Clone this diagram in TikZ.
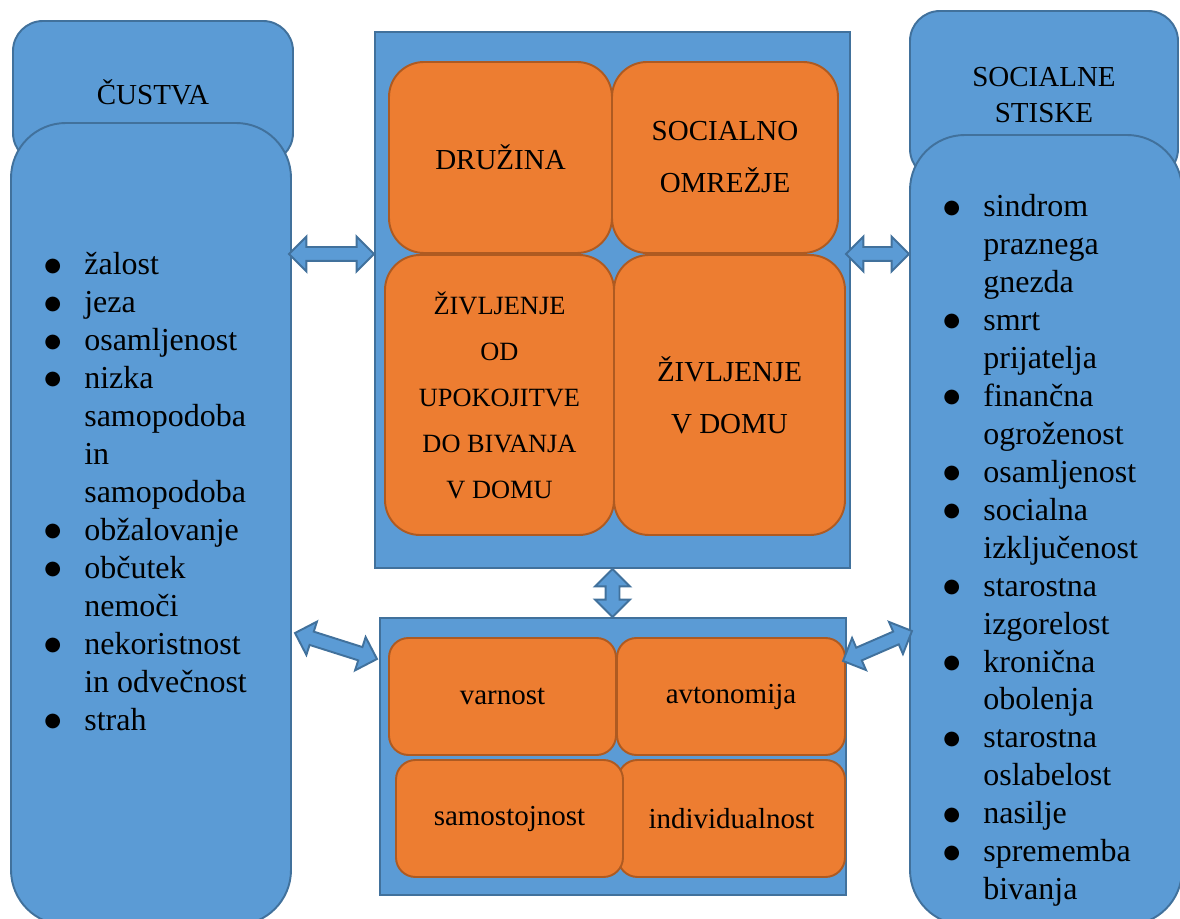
\documentclass[tikz,border=0pt]{standalone}
\usepackage{fontspec}
\setmainfont{Liberation Serif}
\newfontfamily\dotfont{DejaVu Sans}
\usetikzlibrary{calc,shapes.arrows}
\definecolor{boxblue}{RGB}{91,155,213}
\definecolor{lineblue}{RGB}{65,113,156}
\definecolor{boxorange}{RGB}{237,125,49}
\definecolor{lineorange}{RGB}{174,90,33}
\newcommand{\itemdot}{\makebox[0.74cm][l]{\hspace*{-0.06cm}\raisebox{2pt}{\dotfont\fontsize{11}{11}\selectfont ●}}}
\newcommand{\itemgap}{\hspace*{0.74cm}}

\begin{document}
\begin{tikzpicture}[
    bluebox/.style={rectangle, rounded corners=0.6cm, fill=boxblue, draw=lineblue, line width=1.1pt, align=center, font=\fontsize{16.5}{20.5}\selectfont},
    frame/.style={rectangle, fill=boxblue, draw=lineblue, line width=1.1pt},
    topcell/.style={rectangle, rounded corners=0.7cm, fill=boxorange, draw=lineorange, line width=1.1pt, align=center, font=\fontsize{16.5}{29.6}\selectfont},
    lowcell/.style={rectangle, rounded corners=0.39cm, minimum width=4.54cm, minimum height=2.34cm, fill=boxorange, draw=lineorange, line width=1.1pt, font=\fontsize{16.5}{20}\selectfont},
    bullets/.style={align=left, inner sep=0pt, anchor=north west, font=\fontsize{18.2}{21.6}\selectfont},
    dblarrow/.style={double arrow, double arrow head extend=0.21cm, inner sep=0.12cm, outer sep=0pt, fill=boxblue, draw=lineblue, line width=1.1pt},
]
\useasboundingbox (0,0) rectangle (23.6,18.38);

\node[bluebox, minimum width=5.6cm, minimum height=2.84cm] (feelhead) at (3.06,16.54) {ČUSTVA};
\node[frame, rounded corners=1.1cm, minimum width=5.6cm, minimum height=16.04cm] (feelbody) at (3.02,7.9) {};
\node[bullets] (feellist) at (0.94,13.34) {\itemdot žalost\\ \itemdot jeza\\ \itemdot osamljenost\\ \itemdot nizka\\ \itemgap samopodoba\\ \itemgap in\\ \itemgap samopodoba\\ \itemdot obžalovanje\\ \itemdot občutek\\ \itemgap nemoči\\ \itemdot nekoristnost\\ \itemgap in odvečnost\\ \itemdot strah};

\node[bluebox, minimum width=5.36cm, minimum height=3.36cm] (sochead) at (20.88,16.48) {SOCIALNE\\STISKE};
\node[frame, rounded corners=1.1cm, minimum width=5.44cm, minimum height=15.8cm] (socbody) at (20.92,7.78) {};
\node[bullets] (soclist) at (18.92,14.5) {\itemdot sindrom\\ \itemgap praznega\\ \itemgap gnezda\\ \itemdot smrt\\ \itemgap prijatelja\\ \itemdot finančna\\ \itemgap ogroženost\\ \itemdot osamljenost\\ \itemdot socialna\\ \itemgap izključenost\\ \itemdot starostna\\ \itemgap izgorelost\\ \itemdot kronična\\ \itemgap obolenja\\ \itemdot starostna\\ \itemgap oslabelost\\ \itemdot nasilje\\ \itemdot sprememba\\ \itemgap bivanja};

\node[frame, minimum width=9.5cm, minimum height=10.72cm] (topbox) at (12.25,12.38) {};
\node[topcell, minimum width=4.46cm, minimum height=3.82cm] (family) at (10.01,15.23) {DRUŽINA};
\node[topcell, minimum width=4.52cm, minimum height=3.82cm] (network) at (14.5,15.23) {SOCIALNO\\OMREŽJE};
\node[topcell, minimum width=4.58cm, minimum height=5.6cm, font=\fontsize{15}{26.2}\selectfont] (retire) at (9.99,10.48) {ŽIVLJENJE\\OD\\UPOKOJITVE\\DO BIVANJA\\V DOMU};
\node[topcell, minimum width=4.62cm, minimum height=5.6cm] (home) at (14.59,10.48) {ŽIVLJENJE\\V DOMU};

\node[frame, minimum width=9.32cm, minimum height=5.54cm] (botbox) at (12.26,3.25) {};
\node[lowcell] (safety) at (10.05,4.45) {varnost};
\node[lowcell, minimum width=4.56cm] (autonomy) at (14.62,4.45) {avtonomija};
\node[lowcell] (individ) at (14.63,2.01) {individualnost};
\node[lowcell] (selfrel) at (10.19,2.01) {samostojnost};

\coordinate (a1) at ([xshift=-0.06cm]feelbody.east |- family.south);
\coordinate (a2) at (topbox.west |- family.south);
\coordinate (b1) at ([xshift=-0.1cm]topbox.east |- network.south);
\coordinate (b2) at (socbody.west |- network.south);
\coordinate (c1) at (topbox.south);
\coordinate (c2) at (topbox.south |- botbox.north);
\coordinate (d1) at (5.9,5.72);
\coordinate (d2) at (7.54,5.2);
\coordinate (e1) at (16.86,5.16);
\coordinate (e2) at (18.24,5.76);

\foreach \s/\t in {a1/a2, b1/b2, c1/c2, d1/d2, e1/e2}
  \path let \p1=($(\t)-(\s)$), \n1={atan2(\y1,\x1)}, \n2={veclen(\x1,\y1)} in
    node[dblarrow, minimum height=\n2, rotate=\n1] at ($(\s)!0.5!(\t)$) {};
\end{tikzpicture}
\end{document}
